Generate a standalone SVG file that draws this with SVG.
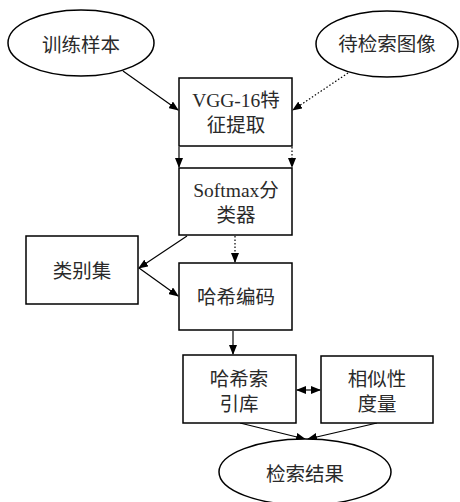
<svg xmlns="http://www.w3.org/2000/svg" width="460" height="502" viewBox="0 0 460 502">
<style>
.shape{fill:#fff;stroke:#000;stroke-width:1.5}
.t{font-family:"Liberation Serif","Noto Sans CJK SC",serif;font-size:19.5px;fill:#2a2a2a;text-anchor:middle}
.c{fill:none;stroke:#000;stroke-width:1.2}
.d{stroke-dasharray:1.5,2}
</style>
<defs>
<marker id="ah" markerWidth="10" markerHeight="8" refX="9" refY="4" orient="auto-start-reverse" markerUnits="userSpaceOnUse">
<path d="M0,0 L10,4 L0,8 Z" fill="#000"/>
</marker>
</defs>
<g id="connectors">
<line class="c" x1="123" y1="71" x2="178" y2="110" marker-end="url(#ah)"/>
<line class="c d" x1="348" y1="73" x2="293" y2="110" marker-end="url(#ah)"/>
<line class="c" x1="179" y1="147" x2="179" y2="167" marker-end="url(#ah)"/>
<line class="c d" x1="292" y1="147" x2="292" y2="167" marker-end="url(#ah)"/>
<line class="c" x1="187" y1="236" x2="139" y2="268" marker-end="url(#ah)"/>
<line class="c" x1="139" y1="268" x2="178" y2="296" marker-end="url(#ah)"/>
<line class="c d" x1="235" y1="236" x2="235" y2="262" marker-end="url(#ah)"/>
<line class="c" x1="233" y1="331" x2="233" y2="354" marker-end="url(#ah)"/>
<line class="c" x1="297" y1="390" x2="320" y2="390" marker-start="url(#ah)" marker-end="url(#ah)"/>
<line class="c" x1="240" y1="423" x2="305" y2="439" marker-end="url(#ah)"/>
<line class="c" x1="377" y1="423" x2="308" y2="439" marker-end="url(#ah)"/>
</g>
<g id="n1"><ellipse class="shape" cx="81" cy="43" rx="73" ry="33"/><text class="t" x="81" y="52">训练样本</text></g>
<g id="n2"><ellipse class="shape" cx="387" cy="44" rx="71" ry="33"/><text class="t" x="387" y="51">待检索图像</text></g>
<g id="n3"><rect class="shape" x="179" y="78" width="113" height="68"/><text class="t" x="236" y="107">VGG-16特</text><text class="t" x="236" y="132">征提取</text></g>
<g id="n4"><rect class="shape" x="179" y="168" width="113" height="67"/><text class="t" x="236" y="197">Softmax分</text><text class="t" x="236" y="222">类器</text></g>
<g id="n5"><rect class="shape" x="26" y="236" width="112" height="68"/><text class="t" x="82" y="278">类别集</text></g>
<g id="n6"><rect class="shape" x="179" y="263" width="113" height="67"/><text class="t" x="236" y="304">哈希编码</text></g>
<g id="n7"><rect class="shape" x="183" y="355" width="113" height="68"/><text class="t" x="239" y="386">哈希索</text><text class="t" x="239" y="411">引库</text></g>
<g id="n8"><rect class="shape" x="321" y="356" width="112" height="67"/><text class="t" x="377" y="386">相似性</text><text class="t" x="377" y="411">度量</text></g>
<g id="n9"><ellipse class="shape" cx="305" cy="472" rx="86" ry="33"/><text class="t" x="305" y="481">检索结果</text></g>
</svg>
